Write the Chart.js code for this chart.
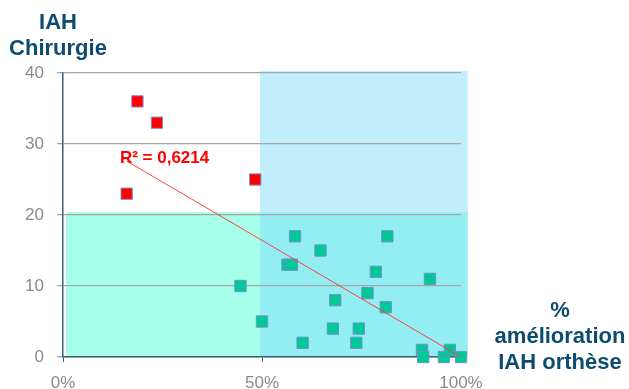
<!DOCTYPE html>
<html>
<head>
<meta charset="utf-8">
<script src="https://cdn.jsdelivr.net/npm/chart.js@4"></script>
<style>
html,body{margin:0;padding:0;background:#fff;}
#wrap{position:relative;width:629px;height:389px;overflow:hidden;}
canvas{display:block;}
.t{position:absolute;font-family:"Liberation Sans",Arial,sans-serif;font-weight:bold;font-size:22px;color:#0E4C6E;text-align:center;line-height:26px;}
</style>
</head>
<body>
<div id="wrap">
<canvas id="c" width="629" height="389"></canvas>
<div class="t" style="left:0px;top:9px;width:116px;">IAH<br>Chirurgie</div>
<div class="t" style="left:490px;top:297px;width:140px;">%<br>amélioration<br>IAH orthèse</div>
</div>
<script>
// Data (x in %, y = IAH chirurgie)
const redX = [18.7, 23.6, 16.0, 48.3];
const redY = [36, 33, 23, 25];
const greenX = [44.6, 50.0, 56.4, 57.5, 58.3, 60.2, 64.7, 67.8, 68.4, 73.7, 74.3, 76.5, 78.6, 81.1, 81.5, 90.2, 90.5, 92.2, 95.7, 97.2, 100];
const greenY = [10, 5, 13, 13, 17, 2, 15, 4, 8, 2, 4, 9, 12, 7, 17, 1, 0, 11, 0, 1, 0];
const trendX = [16, 100];
const trendY = [27.6, 0];
const r2Label = "R² = 0,6214";
const r2Pos = [14.3, 28.0];
const xTicks = [0, 50, 100];
const yTicks = [0, 10, 20, 30, 40];
// zones: [xMin, xMax, yMin, yMax, colour]
const zones = [
  [0.75, 49.5, 0, 20.4, "#A6FFE8"],
  [49.5, 101.7, 20.4, 40.3, "#C2EEFC"],
  [49.5, 101.7, 0, 20.4, "#93EEF3"]
];

const pts = (xs, ys) => xs.map((x, i) => ({x: x, y: ys[i]}));

const zonePlugin = {
  id: 'zones',
  beforeDraw(chart) {
    const {ctx, scales: {x, y}} = chart;
    ctx.save();
    zones.forEach(z => {
      const x0 = x.getPixelForValue(z[0]), x1 = x.getPixelForValue(z[1]);
      const y0 = y.getPixelForValue(z[3]), y1 = y.getPixelForValue(z[2]);
      ctx.fillStyle = z[4];
      ctx.fillRect(x0, y0, x1 - x0, y1 - y0);
    });
    ctx.restore();
  },
  afterDatasetsDraw(chart) {
    const {ctx, scales: {x, y}} = chart;
    ctx.save();
    ctx.font = 'bold 17px "Liberation Sans", Arial, sans-serif';
    ctx.fillStyle = '#FF0000';
    ctx.textBaseline = 'middle';
    ctx.textAlign = 'left';
    ctx.fillText(r2Label, x.getPixelForValue(r2Pos[0]), y.getPixelForValue(r2Pos[1]));
    ctx.restore();
  }
};

new Chart(document.getElementById('c'), {
  type: 'scatter',
  data: {
    datasets: [
      {
        type: 'line',
        data: pts(trendX, trendY),
        borderColor: '#FF4040',
        borderWidth: 1,
        pointRadius: 0,
        fill: false,
        order: 0,
        clip: false
      },
      {
        data: pts(greenX, greenY),
        pointStyle: 'rect',
        pointRadius: 8,
        backgroundColor: '#00C897',
        borderColor: '#6F93C8',
        borderWidth: 1,
        order: 1,
        clip: false
      },
      {
        data: pts(redX, redY),
        pointStyle: 'rect',
        pointRadius: 8,
        backgroundColor: '#FF0000',
        borderColor: '#7F8FC8',
        borderWidth: 1,
        order: 2,
        clip: false
      }
    ]
  },
  options: {
    responsive: false,
    animation: false,
    devicePixelRatio: 1,
    layout: {padding: {left: 0, top: 73, right: 168, bottom: 0}},
    plugins: {legend: {display: false}, tooltip: {enabled: false}},
    scales: {
      x: {
        type: 'linear',
        min: 0, max: 100,
        afterBuildTicks: s => { s.ticks = xTicks.map(v => ({value: v})); },
        afterFit: s => { s.height = 32; },
        grid: {drawOnChartArea: false, drawTicks: true, tickLength: 5, color: '#3A5F7A', lineWidth: 1},
        border: {display: true, color: '#3A5F7A', width: 1.5},
        ticks: {
          padding: 11,
          color: '#8A8A8A',
          font: {family: '"Liberation Sans", Arial, sans-serif', size: 17},
          callback: v => v + '%',
          maxRotation: 0
        }
      },
      y: {
        type: 'linear',
        min: 0, max: 40,
        afterBuildTicks: s => { s.ticks = yTicks.map(v => ({value: v})); },
        afterFit: s => { s.width = 63; },
        grid: {drawOnChartArea: true, drawTicks: true, tickLength: 6, color: '#A6A6A6', lineWidth: 1.3},
        border: {display: true, color: '#3A5F7A', width: 1.5},
        ticks: {
          padding: 13,
          color: '#8A8A8A',
          font: {family: '"Liberation Sans", Arial, sans-serif', size: 17}
        }
      }
    }
  },
  plugins: [zonePlugin]
});
</script>
</body>
</html>
